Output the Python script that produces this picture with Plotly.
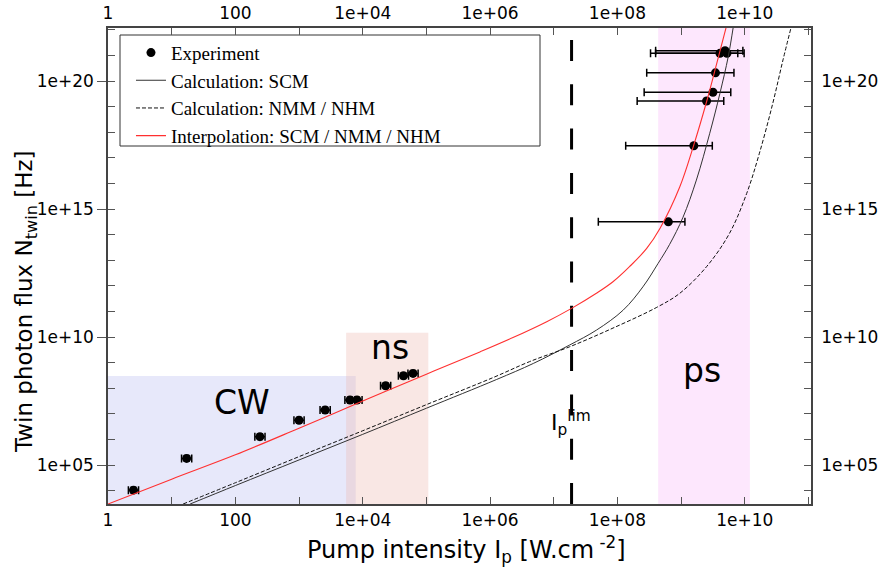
import numpy as np
import plotly.graph_objects as go

# ---------------- data (log10 values) ----------------
# Experiment: log10(pump intensity [W/cm2]), log10(twin photon flux [Hz])
exp_log_I = [0.40, 1.235, 2.386, 3.00, 3.41, 3.80, 3.91, 4.36, 4.64, 4.79,
             8.80, 9.20, 9.40, 9.50, 9.54, 9.61, 9.69, 9.72]
exp_log_N = [4.02, 5.26, 6.11, 6.75, 7.15, 7.54, 7.54, 8.10, 8.49, 8.58,
             14.50, 17.47, 19.22, 19.56, 20.32, 21.08, 21.18, 21.08]
exp_log_I_lo = [0.32, 1.155, 2.306, 2.92, 3.33, 3.72, 3.83, 4.28, 4.56, 4.71,
                7.70, 8.13, 8.31, 8.42, 8.46, 8.52, 8.60, 8.60]
exp_log_I_hi = [0.48, 1.315, 2.466, 3.08, 3.49, 3.88, 3.99, 4.44, 4.72, 4.87,
                9.06, 9.49, 9.67, 9.78, 9.83, 9.89, 9.97, 9.99]
exp_log_N_err = [0.11, 0.11, 0.11, 0.11, 0.11, 0.11, 0.11, 0.11, 0.11, 0.11,
                 0.0, 0.0, 0.0, 0.0, 0.0, 0.0, 0.0, 0.0]

# Calculation: SCM
scm_log_I = [1.29, 2.0, 3.0, 4.0, 5.0, 6.10, 6.68, 7.25, 7.67, 8.09, 8.40, 8.64, 8.82,
             9.03, 9.24, 9.45, 9.61, 9.74, 9.82]
scm_log_N = [3.48, 4.20, 5.20, 6.20, 7.22, 8.34, 8.97, 9.69, 10.27, 11.05, 11.96, 12.88, 13.62,
             14.68, 16.13, 17.96, 19.52, 20.95, 22.12]

# Calculation: NMM / NHM
nmm_log_I = [1.18, 2.0, 3.0, 4.0, 5.0, 6.05, 6.62, 7.25, 7.93, 8.61, 8.98, 9.40,
             9.76, 10.03, 10.23, 10.44, 10.60, 10.73]
nmm_log_N = [3.48, 4.31, 5.33, 6.34, 7.36, 8.42, 9.04, 9.62, 10.35, 11.15, 11.71, 12.75,
             14.05, 15.61, 17.18, 19.13, 20.82, 22.12]

# Interpolation: SCM / NMM / NHM
int_log_I = [0.0, 1.0, 2.0, 3.0, 4.0, 5.0, 5.84, 6.36, 6.89, 7.28, 7.67, 7.93, 8.19,
             8.46, 8.67, 8.98, 9.19, 9.40, 9.56, 9.71]
int_log_N = [3.48, 4.45, 5.40, 6.44, 7.50, 8.55, 9.42, 9.98, 10.60, 11.12, 11.71, 12.16,
             12.75, 13.46, 14.25, 15.87, 17.43, 19.19, 20.69, 22.12]

# Pulse regimes
region_names = ["CW", "ns", "ps"]
region_log_I_start = [0.0, 3.74, 8.64]
region_log_I_end = [3.89, 5.03, 10.08]
region_log_N_top = [8.48, 10.17, 22.07]
region_colors = ["rgb(231,232,250)", "rgba(236,186,176,0.34)", "rgb(253,231,253)"]
region_label_log_I = [2.10, 4.43, 9.33]
region_label_log_N = [7.44, 9.61, 8.70]

Ip_lim_log = 7.28

# axis ranges (log10)
x_range = [0.0, 11.04]
y_range = [3.48, 22.07]
x_tick_exps = list(range(0, 12))
x_label_exps = [0, 2, 4, 6, 8, 10]
y_tick_exps = list(range(4, 23))
y_label_exps = [5, 10, 15, 20]

# ---------------- figure ----------------
def p10(a):
    return np.power(10.0, np.asarray(a, dtype=float))

fig = go.Figure()

y_bot = 10.0 ** y_range[0]
for i in [2, 0, 1]:
    x0, x1 = 10.0 ** region_log_I_start[i], 10.0 ** region_log_I_end[i]
    yt = 10.0 ** region_log_N_top[i]
    fig.add_trace(go.Scatter(
        x=[x0, x1, x1, x0, x0], y=[y_bot, y_bot, yt, yt, y_bot],
        mode="lines", fill="toself", fillcolor=region_colors[i],
        line=dict(width=0), hoverinfo="skip", showlegend=False))

# I_p lim dashed line (drawn from bottom to top)
fig.add_trace(go.Scatter(
    x=[10.0 ** Ip_lim_log, 10.0 ** Ip_lim_log], y=[10.0 ** y_range[0], 10.0 ** y_range[1]],
    mode="lines", line=dict(color="black", width=3, dash="21px,23.3px"),
    hoverinfo="skip", showlegend=False))

ex = p10(exp_log_I)
ey = p10(exp_log_N)
nerr = p10(exp_log_N_err)
fig.add_trace(go.Scatter(
    x=ex, y=ey, mode="markers", name="Experiment",
    marker=dict(color="black", size=9),
    error_x=dict(type="data", symmetric=False,
                 array=p10(exp_log_I_hi) - ex, arrayminus=ex - p10(exp_log_I_lo),
                 color="black", thickness=1.5, width=4),
    error_y=dict(type="data", symmetric=False,
                 array=ey * nerr - ey, arrayminus=ey - ey / nerr,
                 color="black", thickness=1.5, width=3),
))
fig.add_trace(go.Scatter(
    x=p10(scm_log_I), y=p10(scm_log_N), mode="lines", name="Calculation: SCM",
    line=dict(color="#333333", width=1, shape="spline", smoothing=1.0)))
fig.add_trace(go.Scatter(
    x=p10(nmm_log_I), y=p10(nmm_log_N), mode="lines", name="Calculation: NMM / NHM",
    line=dict(color="#111111", width=1, dash="4px,2px", shape="spline", smoothing=1.0)))
fig.add_trace(go.Scatter(
    x=p10(int_log_I), y=p10(int_log_N), mode="lines",
    name="Interpolation: SCM / NMM / NHM",
    line=dict(color="#ff3030", width=1.1, shape="spline", smoothing=1.0)))

# invisible traces for mirrored axes
fig.add_trace(go.Scatter(x=[10.0], y=[1e10], xaxis="x2", yaxis="y2", mode="markers",
                         marker=dict(opacity=0), hoverinfo="skip", showlegend=False))
fig.add_trace(go.Scatter(x=[10.0], y=[1e10], xaxis="x", yaxis="y3", mode="markers",
                         marker=dict(opacity=0), hoverinfo="skip", showlegend=False))

def exp_label(e):
    if e == 0:
        return "1"
    if e == 2:
        return "100"
    return "1e+%02d" % e

x_tickvals = [10.0 ** e for e in x_tick_exps]
x_ticktext = [exp_label(e) if e in x_label_exps else "" for e in x_tick_exps]
y_tickvals = [10.0 ** e for e in y_tick_exps]
y_ticktext = [exp_label(e) if e in y_label_exps else "" for e in y_tick_exps]
y_label_vals = [10.0 ** e for e in y_label_exps]
y_label_text = [exp_label(e) for e in y_label_exps]

tick_font = dict(family="DejaVu Sans", size=17, color="black")
axis_common = dict(type="log", showgrid=False, zeroline=False, showline=True,
                   linecolor="#444444", linewidth=1.5, tickcolor="#555555",
                   tickwidth=1.2, tickfont=tick_font, automargin=False)

fig.update_layout(
    width=893, height=575,
    margin=dict(l=108, r=82, t=28, b=71, autoexpand=False),
    paper_bgcolor="white", plot_bgcolor="white",
    showlegend=True,
    xaxis=dict(range=x_range, tickmode="array", tickvals=x_tickvals, ticktext=x_ticktext,
               ticks="inside", ticklen=7, **axis_common),
    xaxis2=dict(range=x_range, overlaying="x", side="top", tickmode="array",
                tickvals=x_tickvals, ticktext=x_ticktext, ticks="inside", ticklen=7,
                **axis_common),
    yaxis=dict(range=y_range, tickmode="array", tickvals=y_label_vals, ticktext=y_label_text,
               ticks="outside", ticklen=9, **axis_common),
    yaxis2=dict(range=y_range, overlaying="y", side="right", tickmode="array",
                tickvals=y_tickvals, ticktext=y_ticktext, ticks="inside", ticklen=7,
                ticklabelstandoff=5, **axis_common),
    yaxis3=dict(range=y_range, overlaying="y", side="left", tickmode="array",
                tickvals=y_tickvals, showticklabels=False, ticks="inside", ticklen=7,
                type="log", showgrid=False, zeroline=False, showline=False,
                tickcolor="#555555", tickwidth=1.2, automargin=False),
    legend=dict(x=0.0327, y=0.988, xanchor="left", yanchor="top",
                bgcolor="rgba(0,0,0,0)", borderwidth=0,
                font=dict(family="Liberation Serif", size=19, color="black"),
                tracegroupgap=0),
)

# legend frame
fig.add_shape(type="rect", xref="paper", yref="paper",
              x0=(120 - 108) / 703, x1=(540 - 108) / 703,
              y0=(504 - 146) / 476, y1=(504 - 35) / 476,
              line=dict(color="#333333", width=1), fillcolor="white", layer="below")

annotations = []
for i, name in enumerate(region_names):
    annotations.append(dict(x=region_label_log_I[i], y=region_label_log_N[i],
                            xref="x", yref="y", text=name, showarrow=False,
                            xanchor="center", yanchor="middle",
                            font=dict(family="DejaVu Sans", size=33, color="black")))
annotations.append(dict(x=6.92, y=6.63, xref="x", yref="y",
                        text="I<sub>p</sub><sup>lim</sup>", showarrow=False,
                        xanchor="left", yanchor="middle",
                        font=dict(family="DejaVu Sans", size=22, color="black")))
annotations.append(dict(x=(466 - 108) / 703, y=(504 - 549) / 476, xref="paper", yref="paper",
                        text="Pump intensity I<sub>p</sub> [W.cm<sup> -2</sup>]",
                        showarrow=False, xanchor="center", yanchor="middle",
                        font=dict(family="DejaVu Sans", size=24, color="black")))
annotations.append(dict(x=(26 - 108) / 703, y=(504 - 302) / 476, xref="paper", yref="paper",
                        text="Twin photon flux N<sub>twin</sub> [Hz]", textangle=-90,
                        showarrow=False, xanchor="center", yanchor="middle",
                        font=dict(family="DejaVu Sans", size=23, color="black")))
fig.update_layout(annotations=annotations)

# remove the default 8 px page margin so the figure fills the window exactly
fig.write_html("out.html", config={"displayModeBar": False},
               post_script="document.body.style.margin='0px';")
